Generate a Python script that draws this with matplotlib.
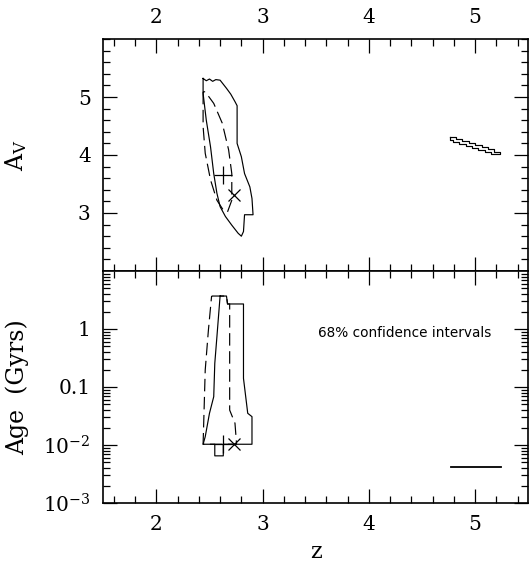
import numpy as np
import matplotlib
matplotlib.use("Agg")
from matplotlib import pyplot as plt
from matplotlib.ticker import MultipleLocator, LogLocator, FixedLocator, FixedFormatter, NullFormatter

plt.rcParams['font.family'] = ['DejaVu Serif']
plt.rcParams['mathtext.fontset'] = 'dejavuserif'
plt.rcParams['lines.scale_dashes'] = False

# top panel: A_V vs z
top_solid_z = [2.44, 2.47, 2.50, 2.53, 2.56, 2.60, 2.66, 2.70, 2.74, 2.76, 2.76, 2.80, 2.83,
               2.88, 2.90, 2.91, 2.83, 2.82, 2.80, 2.77, 2.71, 2.65, 2.60, 2.57, 2.54, 2.51,
               2.47, 2.44, 2.44]
top_solid_av = [5.32, 5.28, 5.31, 5.27, 5.30, 5.29, 5.15, 5.05, 4.92, 4.85, 4.20, 3.97, 3.68,
                3.45, 3.25, 2.97, 2.97, 2.68, 2.60, 2.65, 2.79, 2.94, 3.11, 3.34, 3.68, 4.14,
                4.60, 5.06, 5.32]
top_dash_z = [2.44, 2.44, 2.46, 2.51, 2.57, 2.63, 2.67, 2.71, 2.71, 2.68, 2.62, 2.54, 2.46, 2.44]
top_dash_av = [5.09, 4.49, 4.03, 3.57, 3.22, 3.05, 3.02, 3.22, 3.68, 4.09, 4.55, 4.89, 5.09, 5.09]

hiz_z = [4.76, 4.82, 4.82, 4.88, 4.88, 4.94, 4.94, 5.00, 5.00, 5.06, 5.06, 5.12, 5.12, 5.18,
         5.18, 5.23, 5.23, 5.15, 5.15, 5.09, 5.09, 5.03, 5.03, 4.97, 4.97, 4.91, 4.91, 4.85,
         4.85, 4.79, 4.79, 4.76, 4.76]
hiz_av = [4.31, 4.31, 4.28, 4.28, 4.24, 4.24, 4.21, 4.21, 4.17, 4.17, 4.13, 4.13, 4.10, 4.10,
          4.06, 4.06, 4.01, 4.01, 4.05, 4.05, 4.08, 4.08, 4.12, 4.12, 4.16, 4.16, 4.19, 4.19,
          4.23, 4.23, 4.26, 4.26, 4.31]

plus_z, plus_av = 2.63, 3.66
cross_z, cross_av = 2.73, 3.31

# bottom panel: age vs z
bot_solid_z = [2.60, 2.66, 2.67, 2.82, 2.82, 2.86, 2.90, 2.90, 2.63, 2.63, 2.55, 2.55, 2.44,
               2.46, 2.50, 2.54, 2.55, 2.57, 2.60]
bot_solid_age = [3.7, 3.7, 2.7, 2.7, 0.141, 0.0352, 0.0308, 0.0103, 0.0103, 0.0065, 0.0065,
                 0.0103, 0.0103, 0.0139, 0.0352, 0.068, 0.256, 0.736, 3.7]
bot_dash_z = [2.52, 2.66, 2.67, 2.69, 2.69, 2.74, 2.755, 2.44, 2.46, 2.49, 2.52]
bot_dash_age = [3.7, 3.7, 2.7, 2.7, 0.040, 0.0237, 0.0103, 0.0103, 0.196, 0.96, 3.7]

plus_age = 0.0103
cross_age = 0.0103

bar_z = [4.77, 5.24]
bar_age = [0.0041, 0.0041]

fig = plt.figure(figsize=(5.32, 5.62), dpi=100)
ax1 = fig.add_axes([0.194, 0.5178, 0.799, 0.4128])
ax2 = fig.add_axes([0.194, 0.105, 0.799, 0.4128])

lw = 0.85
dash = (0, (9, 4))

ax1.plot(top_solid_z, top_solid_av, color='k', lw=lw)
ax1.plot(top_dash_z, top_dash_av, color='k', lw=lw, linestyle=dash)
ax1.plot(hiz_z, hiz_av, color='k', lw=lw)
ax1.plot(plus_z, plus_av, marker='+', color='k', ms=13, mew=0.9)
ax1.plot(cross_z, cross_av, marker='x', color='k', ms=9, mew=0.9)

ax2.plot(bot_solid_z, bot_solid_age, color='k', lw=lw)
ax2.plot(bot_dash_z, bot_dash_age, color='k', lw=lw, linestyle=dash)
ax2.plot(plus_z, plus_age, marker='+', color='k', ms=13, mew=0.9)
ax2.plot(cross_z, cross_age, marker='x', color='k', ms=9, mew=0.9)
ax2.plot(bar_z, bar_age, color='k', lw=1.3)
ax2.text(4.34, 0.85, '68% confidence intervals', fontsize=9.8, family='DejaVu Sans',
         ha='center', va='center')

for ax in (ax1, ax2):
    ax.set_xlim(1.5, 5.5)
    ax.xaxis.set_major_locator(MultipleLocator(1))
    ax.xaxis.set_minor_locator(MultipleLocator(0.2))
    ax.tick_params(which='both', direction='in', top=True, right=True, labelsize=14.5, pad=9)
    ax.tick_params(which='major', length=10, width=0.9)
    ax.tick_params(which='minor', length=5, width=0.9)
    for s in ax.spines.values():
        s.set_linewidth(1.2)

ax1.set_ylim(2, 6)
ax1.yaxis.set_major_locator(FixedLocator([3, 4, 5]))
ax1.yaxis.set_minor_locator(MultipleLocator(0.2))
ax1.tick_params(labelbottom=False, labeltop=True)
ax1.set_ylabel('A$_{\\rm V}$', fontsize=17)
ax1.yaxis.set_label_coords(-0.175, 0.5)

ax2.set_yscale('log')
ax2.set_ylim(1e-3, 10)
ax2.yaxis.set_major_locator(FixedLocator([1e-3, 1e-2, 0.1, 1]))
ax2.yaxis.set_major_formatter(FixedFormatter(['10$^{-3}$', '10$^{-2}$', '0.1', '1']))
ax2.yaxis.set_minor_locator(LogLocator(base=10, subs=np.arange(2, 10), numticks=20))
ax2.yaxis.set_minor_formatter(NullFormatter())
ax2.set_ylabel('Age  (Gyrs)', fontsize=17)
ax2.yaxis.set_label_coords(-0.175, 0.5)
ax2.set_xlabel('z', fontsize=16, labelpad=5)

fig.savefig('out.png', dpi=100)
